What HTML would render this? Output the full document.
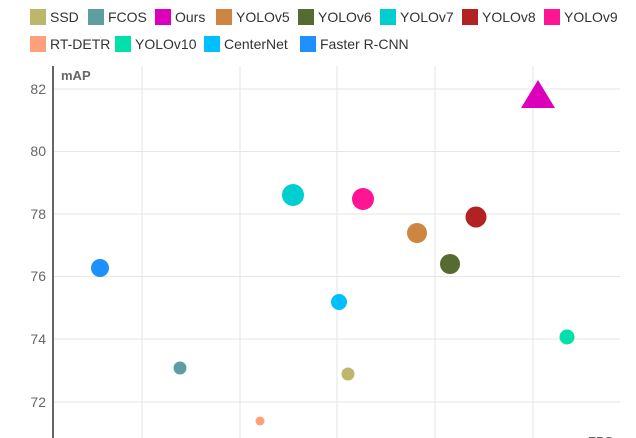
<!DOCTYPE html>
<html><head><meta charset="utf-8"><style>
html,body{margin:0;padding:0;background:#fff;width:636px;height:438px;overflow:hidden}
svg{display:block;font-family:"Liberation Sans",sans-serif}
</style></head><body>
<svg width="636" height="438" viewBox="0 0 636 438">
<g font-size="14" fill="#333">
<rect x="30" y="9" width="16" height="16" fill="#bdb76b"/><text x="50" y="22">SSD</text>
<rect x="88" y="9" width="16" height="16" fill="#5f9ea0"/><text x="108" y="22">FCOS</text>
<rect x="155" y="9" width="16" height="16" fill="#dd00bb"/><text x="175" y="22">Ours</text>
<rect x="216" y="9" width="16" height="16" fill="#cd853f"/><text x="236" y="22">YOLOv5</text>
<rect x="298" y="9" width="16" height="16" fill="#556b2f"/><text x="318" y="22">YOLOv6</text>
<rect x="380" y="9" width="16" height="16" fill="#00ced1"/><text x="400" y="22">YOLOv7</text>
<rect x="462" y="9" width="16" height="16" fill="#b22222"/><text x="482" y="22">YOLOv8</text>
<rect x="544" y="9" width="16" height="16" fill="#ff1493"/><text x="564" y="22">YOLOv9</text>
<rect x="30" y="36" width="16" height="16" fill="#ffa07a"/><text x="50" y="49">RT-DETR</text>
<rect x="115" y="36" width="16" height="16" fill="#00e0a8"/><text x="135" y="49">YOLOv10</text>
<rect x="204" y="36" width="16" height="16" fill="#00bfff"/><text x="224" y="49">CenterNet</text>
<rect x="300" y="36" width="16" height="16" fill="#1e90ff"/><text x="320" y="49">Faster R-CNN</text>
</g>
<g stroke="#e6e6e6" stroke-width="1">
<line x1="54" y1="89" x2="620" y2="89"/><line x1="54" y1="151.5" x2="620" y2="151.5"/>
<line x1="54" y1="214" x2="620" y2="214"/><line x1="54" y1="276.5" x2="620" y2="276.5"/>
<line x1="54" y1="339" x2="620" y2="339"/><line x1="54" y1="402" x2="620" y2="402"/>
<line x1="142" y1="66" x2="142" y2="438"/><line x1="240" y1="66" x2="240" y2="438"/>
<line x1="337" y1="66" x2="337" y2="438"/><line x1="435" y1="66" x2="435" y2="438"/>
<line x1="533" y1="66" x2="533" y2="438"/>
</g>
<line x1="53" y1="66" x2="53" y2="438" stroke="#333" stroke-width="1.5"/>
<g font-size="14" fill="#666" text-anchor="end">
<text x="46" y="94">82</text><text x="46" y="156">80</text><text x="46" y="219">78</text>
<text x="46" y="281">76</text><text x="46" y="344">74</text><text x="46" y="407">72</text>
</g>
<text x="61" y="80" font-size="13" font-weight="bold" fill="#666">mAP</text>
<text x="588" y="446" font-size="13" font-weight="bold" fill="#666">FPS</text>
<circle cx="100" cy="268" r="9" fill="#1e90ff"/>
<circle cx="180" cy="368" r="6.5" fill="#5f9ea0"/>
<circle cx="260" cy="421" r="4.5" fill="#ffa07a"/>
<circle cx="293" cy="195" r="11" fill="#00ced1"/>
<circle cx="339" cy="302" r="8" fill="#00bfff"/>
<circle cx="348" cy="374" r="6.5" fill="#bdb76b"/>
<circle cx="363" cy="199" r="11" fill="#ff1493"/>
<circle cx="417" cy="233" r="10" fill="#cd853f"/>
<circle cx="450" cy="264" r="10" fill="#556b2f"/>
<circle cx="476" cy="217" r="10.5" fill="#b22222"/>
<circle cx="567" cy="337" r="7.5" fill="#00e0a8"/>
<polygon points="538,80 555,108 521,108" fill="#dd00bb"/>
</svg>
</body></html>
